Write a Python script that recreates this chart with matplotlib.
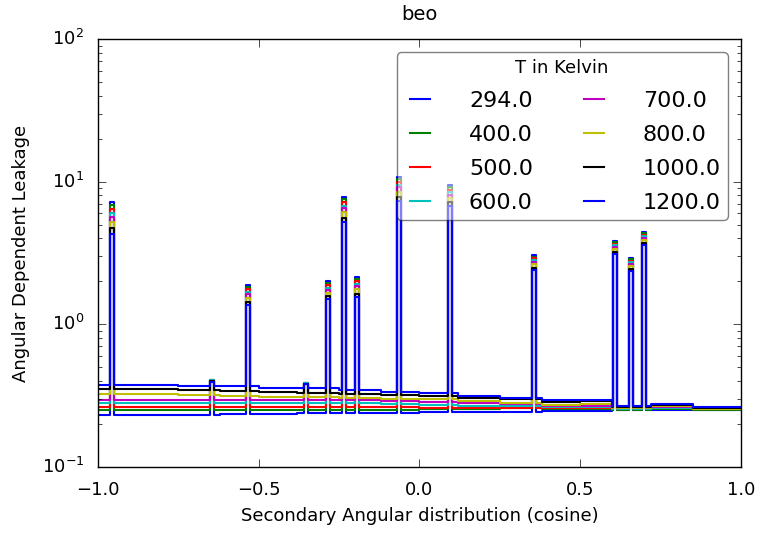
import matplotlib
matplotlib.use('Agg')
import matplotlib.pyplot as plt
import numpy as np

temps = [294.0, 400.0, 500.0, 600.0, 700.0, 800.0, 1000.0, 1200.0]
colors = ['b', 'g', 'r', 'c', 'm', 'y', 'k', 'b']

# baseline leakage, step segments in cosine
seg_edges = [-1.0, -0.88, -0.75, -0.62, -0.5, -0.38, -0.25, -0.12, 0.0,
             0.12, 0.25, 0.38, 0.5, 0.6, 0.72, 0.85, 1.0]
base_294 = [0.231, 0.232, 0.233, 0.234, 0.236, 0.238, 0.239, 0.240, 0.243, 0.244, 0.243, 0.246, 0.248, 0.250, 0.251, 0.251]
base_400 = [0.251, 0.251, 0.250, 0.250, 0.251, 0.251, 0.251, 0.251, 0.253, 0.256, 0.257, 0.253, 0.255, 0.252, 0.255, 0.252]
base_500 = [0.264, 0.265, 0.265, 0.265, 0.265, 0.264, 0.263, 0.263, 0.261, 0.261, 0.261, 0.257, 0.259, 0.254, 0.257, 0.253]
base_600 = [0.280, 0.281, 0.282, 0.283, 0.283, 0.282, 0.280, 0.278, 0.272, 0.269, 0.268, 0.262, 0.264, 0.256, 0.259, 0.254]
base_700 = [0.297, 0.297, 0.297, 0.297, 0.296, 0.295, 0.293, 0.292, 0.285, 0.280, 0.276, 0.267, 0.269, 0.258, 0.262, 0.255]
base_800 = [0.327, 0.324, 0.320, 0.316, 0.311, 0.308, 0.304, 0.301, 0.298, 0.290, 0.283, 0.274, 0.276, 0.260, 0.266, 0.256]
base_1000 = [0.352, 0.350, 0.347, 0.343, 0.336, 0.332, 0.327, 0.322, 0.315, 0.305, 0.298, 0.287, 0.288, 0.263, 0.272, 0.258]
base_1200 = [0.378, 0.375, 0.372, 0.368, 0.360, 0.355, 0.345, 0.335, 0.328, 0.315, 0.305, 0.295, 0.297, 0.268, 0.278, 0.262]
bases = [base_294, base_400, base_500, base_600, base_700, base_800, base_1000, base_1200]

# narrow peaks: centre, width, value per temperature (294 ... 1200)
peak_pos = [-0.956, -0.645, -0.533, -0.353, -0.285, -0.235, -0.194, -0.064, 0.095, 0.356, 0.608, 0.658, 0.698]
peak_width = [0.011, 0.011, 0.011, 0.011, 0.011, 0.011, 0.011, 0.011, 0.015, 0.011, 0.011, 0.011, 0.011]
peak_vals = [
    [7.19, 6.82, 6.47, 6.07, 5.69, 5.21, 4.70, 4.27],
    [0.41, 0.41, 0.405, 0.405, 0.40, 0.40, 0.40, 0.395],
    [1.88, 1.82, 1.76, 1.68, 1.62, 1.53, 1.43, 1.37],
    [0.385, 0.385, 0.385, 0.385, 0.38, 0.38, 0.38, 0.38],
    [2.00, 1.94, 1.88, 1.81, 1.75, 1.67, 1.57, 1.50],
    [7.8, 7.5, 7.2, 6.8, 6.5, 6.1, 5.6, 5.2],
    [2.14, 2.07, 2.00, 1.93, 1.86, 1.76, 1.63, 1.56],
    [10.8, 10.4, 10.0, 9.5, 9.1, 8.5, 7.8, 7.3],
    [9.4, 9.1, 8.8, 8.4, 8.1, 7.7, 7.2, 6.8],
    [3.06, 2.98, 2.91, 2.83, 2.75, 2.64, 2.48, 2.40],
    [3.84, 3.75, 3.66, 3.57, 3.48, 3.36, 3.20, 3.10],
    [2.92, 2.86, 2.79, 2.72, 2.66, 2.56, 2.44, 2.36],
    [4.45, 4.35, 4.25, 4.13, 4.03, 3.90, 3.72, 3.60],
]

plt.style.use('classic')
plt.rcParams['figure.facecolor'] = 'white'
plt.rcParams['mathtext.fontset'] = 'dejavusans'

# bin edges: baseline segments plus peak edges
edges = list(seg_edges)
for p, w in zip(peak_pos, peak_width):
    edges += [p - w / 2, p + w / 2]
edges = np.array(sorted(set(edges)))
mids = 0.5 * (edges[:-1] + edges[1:])

fig = plt.figure(figsize=(7.63, 5.34), dpi=100)
ax = fig.add_axes([0.1284, 0.1255, 0.8428, 0.8015])

for j, T in enumerate(temps):
    seg_idx = np.searchsorted(seg_edges, mids) - 1
    vals = np.array(bases[j])[seg_idx]
    for k, (p, w) in enumerate(zip(peak_pos, peak_width)):
        inside = (mids > p - w / 2) & (mids < p + w / 2)
        vals[inside] = peak_vals[k][j]
    ax.step(edges, np.append(vals, vals[-1]), where='post', color=colors[j],
            lw=1.5, label=str(T))

ax.set_yscale('log')
ax.set_xlim(-1.0, 1.0)
ax.set_ylim(0.1, 100)
ax.set_xticks([-1.0, -0.5, 0.0, 0.5, 1.0])
ax.set_xlabel('Secondary Angular distribution (cosine)', fontsize=13, labelpad=6)
ax.set_ylabel('Angular Dependent Leakage', fontsize=13, labelpad=8)
ax.set_title('beo', fontsize=14, pad=14)
ax.tick_params(labelsize=13, pad=10)
ax.tick_params(which='major', length=6)
ax.tick_params(which='minor', length=3)
leg = ax.legend(title='T in Kelvin', fontsize=16, ncol=2, loc='upper right',
                fancybox=True, framealpha=0.5, title_fontsize=13,
                handlelength=1.5, handletextpad=1.45, columnspacing=2.0,
                labelspacing=0.63, borderpad=0.3, borderaxespad=0.6)
for line in leg.get_lines():
    line.set_linewidth(1.5)

fig.savefig('out.png', dpi=100, facecolor='white')
